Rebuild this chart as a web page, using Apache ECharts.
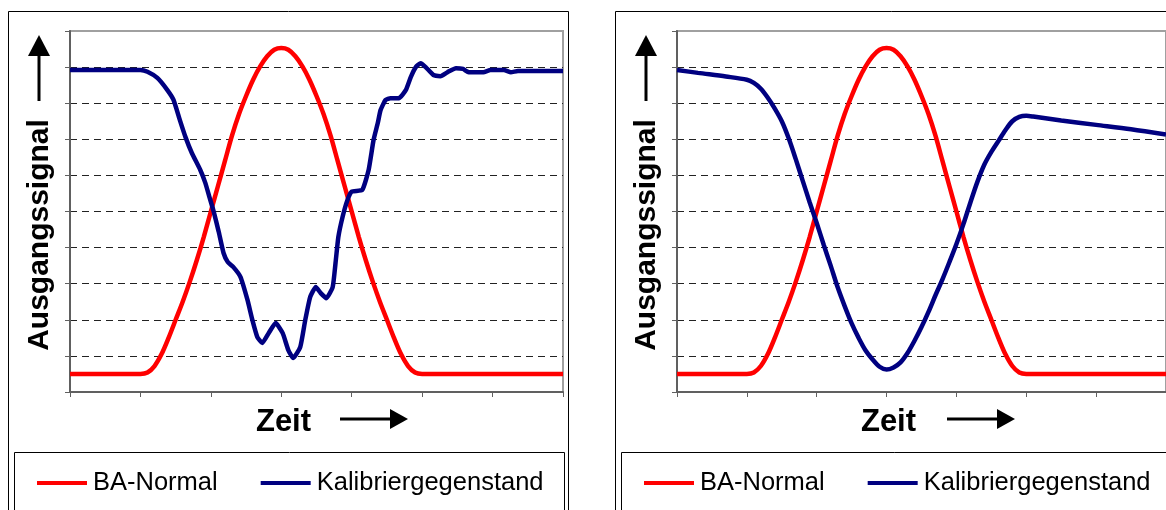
<!DOCTYPE html>
<html>
<head>
<meta charset="utf-8">
<script src="https://cdn.jsdelivr.net/npm/echarts@6/dist/echarts.min.js"></script>
<style>
html,body{margin:0;padding:0;background:#fff;}
#chart{width:1166px;height:510px;}
</style>
</head>
<body>
<div id="chart"></div>
<script>
// ---- data ----
const legendNames = ['BA-Normal', 'Kalibriergegenstand'];
const xAxisTitle = 'Zeit';
const yAxisTitle = 'Ausgangssignal';

const redTime = [0, 1.0, 1.1, 1.2, 1.3, 1.4, 1.5, 1.6, 1.7, 1.8, 1.9, 2.0, 2.1, 2.2, 2.3, 2.4, 2.5, 2.6, 2.7, 2.8, 2.9, 3.0,
  3.1, 3.2, 3.3, 3.4, 3.5, 3.6, 3.7, 3.8, 3.9, 4.0, 4.1, 4.2, 4.3, 4.4, 4.5, 4.6, 4.7, 4.8, 4.9, 5.0, 7.0];
const redValue = [0.5, 0.5, 0.54, 0.72, 1.05, 1.5, 2.0, 2.5, 3.05, 3.65, 4.3, 5.0, 5.7, 6.4, 7.1, 7.7, 8.2, 8.65, 9.02, 9.3, 9.48, 9.53,
  9.48, 9.3, 9.02, 8.65, 8.2, 7.7, 7.1, 6.4, 5.7, 5.0, 4.3, 3.65, 3.05, 2.5, 2.0, 1.5, 1.05, 0.72, 0.54, 0.5, 0.5];

const blueLeftTime = [0, 1.0, 1.1, 1.24, 1.38, 1.47, 1.56, 1.64, 1.73, 1.85, 1.92, 1.98, 2.04, 2.11, 2.18, 2.24, 2.32, 2.42,
  2.52, 2.59, 2.66, 2.73, 2.82, 2.92, 3.02, 3.1, 3.17, 3.27, 3.34, 3.41, 3.49, 3.56, 3.64, 3.73, 3.77, 3.81, 3.87, 3.94, 4.0,
  4.15, 4.24, 4.31, 4.37, 4.41, 4.48, 4.55, 4.67, 4.77, 4.84, 4.91, 4.98, 5.05, 5.16, 5.26, 5.36, 5.48, 5.58, 5.66, 5.87,
  5.97, 6.16, 6.26, 6.36, 7.0];
const blueLeftValue = [8.92, 8.92, 8.87, 8.7, 8.37, 8.09, 7.53, 7.06, 6.62, 6.15, 5.8, 5.4, 5.0, 4.45, 3.85, 3.6, 3.46, 3.19,
  2.55, 1.99, 1.52, 1.36, 1.63, 1.91, 1.63, 1.16, 0.94, 1.25, 1.99, 2.63, 2.91, 2.74, 2.6, 2.91, 3.57, 4.29, 4.85, 5.32, 5.55,
  5.6, 6.15, 6.98, 7.45, 7.81, 8.09, 8.14, 8.14, 8.37, 8.73, 9.0, 9.11, 9.0, 8.78, 8.75, 8.86, 8.97, 8.95, 8.86, 8.86,
  8.92, 8.92, 8.86, 8.89, 8.89];

const blueRightTime = [0, 0.3, 0.7, 1.0, 1.1, 1.2, 1.3, 1.4, 1.5, 1.6, 1.7, 1.8, 1.9, 2.0, 2.1, 2.2, 2.3, 2.4, 2.5, 2.6, 2.7,
  2.8, 2.9, 3.0, 3.1, 3.2, 3.3, 3.4, 3.5, 3.6, 3.7, 3.8, 3.9, 4.0, 4.1, 4.2, 4.3, 4.4, 4.5, 4.6, 4.7, 4.8, 4.9, 5.0, 5.1,
  5.5, 6.0, 6.5, 7.0];
const blueRightValue = [8.92, 8.84, 8.74, 8.65, 8.56, 8.4, 8.15, 7.85, 7.5, 7.02, 6.45, 5.85, 5.25, 4.68, 4.08, 3.5, 2.9, 2.38,
  1.9, 1.5, 1.15, 0.9, 0.7, 0.62, 0.68, 0.82, 1.08, 1.42, 1.8, 2.22, 2.68, 3.12, 3.6, 4.1, 4.65, 5.25, 5.82, 6.3, 6.65, 6.95,
  7.25, 7.5, 7.62, 7.65, 7.63, 7.52, 7.4, 7.28, 7.13];

// ---- build options ----
function zip(t, v) { return t.map(function (x, i) { return [x, v[i]]; }); }
const FONT = 'Liberation Sans, Arial, sans-serif';
const RED = '#ff0000', BLUE = '#000080';

function makeGrid(left) {
  return { left: left, top: 31, width: 493, height: 361, show: true, backgroundColor: 'transparent',
    borderColor: '#a0a0a0', borderWidth: 2 };
}
function makeX(gi) {
  return { type: 'value', gridIndex: gi, min: 0, max: 7, interval: 1,
    name: xAxisTitle, nameLocation: 'middle', nameGap: 15,
    nameTextStyle: { fontFamily: FONT, fontWeight: 'bold', fontSize: 31, color: '#000', padding: [0, 66, 0, 0] },
    axisLine: { onZero: false, lineStyle: { color: '#606060', width: 2 } },
    axisTick: { show: true, length: 5, lineStyle: { color: '#606060', width: 1 } },
    axisLabel: { show: false }, splitLine: { show: false } };
}
function makeY(gi) {
  return { type: 'value', gridIndex: gi, min: 0, max: 10, interval: 1,
    name: yAxisTitle, nameLocation: 'middle', nameGap: 15, nameRotate: 90,
    nameTextStyle: { fontFamily: FONT, fontWeight: 'bold', fontSize: 30, color: '#000', padding: [0, 47, 0, 0] },
    axisLine: { show: true, onZero: false, lineStyle: { color: '#606060', width: 2 } },
    axisTick: { show: true, length: 5, lineStyle: { color: '#606060', width: 1 } },
    axisLabel: { show: false },
    splitLine: { show: true, showMinLine: false, showMaxLine: false,
      lineStyle: { color: '#222', width: 1, type: [7, 5] } } };
}
function makeLegend(left) {
  return { left: left, top: 470, padding: 0, itemWidth: 50, itemHeight: 4, itemGap: 43, icon: 'rect',
    selectedMode: false,
    textStyle: { fontFamily: FONT, fontSize: 25.5, color: '#000', padding: [0, 0, 0, 1] },
    data: legendNames };
}
function lineSeries(name, gi, data, color, smooth) {
  return { type: 'line', name: name, xAxisIndex: gi, yAxisIndex: gi, data: data,
    symbol: 'none', showSymbol: false, smooth: smooth, animation: false,
    lineStyle: { color: color, width: 4.5 }, itemStyle: { color: color } };
}
function arrows(dx) {
  return [
    { type: 'line', shape: { x1: 39 + dx, y1: 101, x2: 39 + dx, y2: 54 }, style: { stroke: '#000', lineWidth: 3 } },
    { type: 'polygon', shape: { points: [[28 + dx, 56], [50 + dx, 56], [39 + dx, 35]] }, style: { fill: '#000' } },
    { type: 'line', shape: { x1: 340 + dx, y1: 419, x2: 392 + dx, y2: 419 }, style: { stroke: '#000', lineWidth: 3 } },
    { type: 'polygon', shape: { points: [[390 + dx, 409], [390 + dx, 429], [408 + dx, 419]] }, style: { fill: '#000' } },
    { type: 'rect', shape: { x: 8.5 + dx, y: 11.5, width: 560, height: 540 }, style: { fill: 'none', stroke: '#000', lineWidth: 1 } },
    { type: 'rect', shape: { x: 14.5 + dx, y: 452.5, width: 550, height: 100 }, style: { fill: 'none', stroke: '#000', lineWidth: 1 } }
  ];
}

const chart = echarts.init(document.getElementById('chart'));
chart.setOption({
  animation: false,
  backgroundColor: '#fff',
  grid: [makeGrid(70), makeGrid(677)],
  xAxis: [makeX(0), makeX(1)],
  yAxis: [makeY(0), makeY(1)],
  legend: [makeLegend(37), makeLegend(644)],
  graphic: { elements: arrows(0).concat(arrows(607)) },
  series: [
    lineSeries(legendNames[0], 0, zip(redTime, redValue), RED, 0.3),
    lineSeries(legendNames[1], 0, zip(blueLeftTime, blueLeftValue), BLUE, 0.15),
    lineSeries(legendNames[0], 1, zip(redTime, redValue), RED, 0.3),
    lineSeries(legendNames[1], 1, zip(blueRightTime, blueRightValue), BLUE, 0.3)
  ]
});
</script>
</body>
</html>
